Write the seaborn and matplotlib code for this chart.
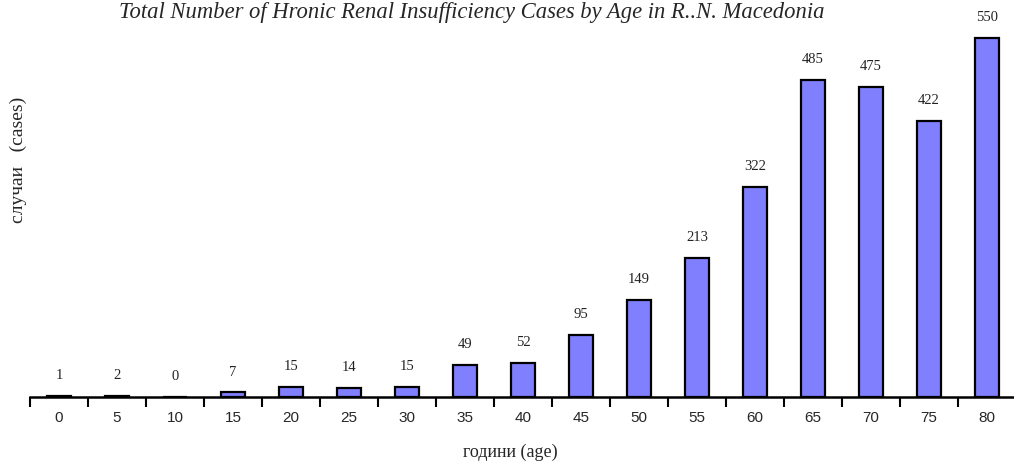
import matplotlib
matplotlib.use('Agg')
import matplotlib.pyplot as plt
import seaborn as sns
import pandas as pd
import numpy as np

# Data
ages = ['0', '5', '10', '15', '20', '25', '30', '35', '40', '45', '50',
        '55', '60', '65', '70', '75', '80']
cases = [1, 2, 0, 7, 15, 14, 15, 49, 52, 95, 149, 213, 322, 485, 475, 422, 550]

df = pd.DataFrame({'age': ages, 'cases': cases})

sns.set_style('white')
plt.rcParams['font.family'] = ['Liberation Serif', 'DejaVu Serif']

fig = plt.figure(figsize=(10.14, 4.65), dpi=100)
ax = fig.add_axes([0.0296, 0.1462, 0.9724, 0.8428])

sns.barplot(data=df, x='age', y='cases', order=ages, color='#8080FF',
            saturation=1, width=0.43, edgecolor='black', linewidth=1.6, ax=ax)

# Value labels above each bar
for i, v in enumerate(cases):
    ax.annotate(str(v), (i, v), xytext=(0, 10), textcoords='offset points',
                ha='center', va='bottom', fontsize=10.5, color='#222222')

ax.set_xlim(-0.5, len(ages) - 0.5)
ax.set_ylim(0, 600)

# Ticks between categories, labels centred under bars
ax.set_xticks(np.arange(-0.5, len(ages)), labels=[''] * (len(ages) + 1))
ax.set_xticks(np.arange(len(ages)), labels=ages, minor=True)
ax.tick_params(axis='x', which='major', direction='out', length=7, width=1.5,
               color='black', bottom=True)
ax.tick_params(axis='x', which='minor', length=0, pad=10, labelsize=11,
               labelfontfamily='Liberation Sans')
ax.set_yticks([])
ax.set_xlabel('')
ax.set_ylabel('')

for side in ['left', 'right', 'top']:
    ax.spines[side].set_visible(False)
ax.spines['bottom'].set_linewidth(1.8)
ax.spines['bottom'].set_color('black')
ax.spines['bottom'].set_zorder(5)

fig.text(0.465, 0.996, 'Total Number of Hronic Renal Insufficiency Cases by Age in R..N. Macedonia',
         ha='center', va='top', fontsize=16.3, style='italic')
fig.text(0.018, 0.656, 'случаи   (cases)', rotation=90, ha='center', va='center',
         fontsize=14)
fig.text(0.503, 0.028, 'години (age)', ha='center', va='center', fontsize=13)

plt.savefig('out.png', dpi=100)
plt.close()
